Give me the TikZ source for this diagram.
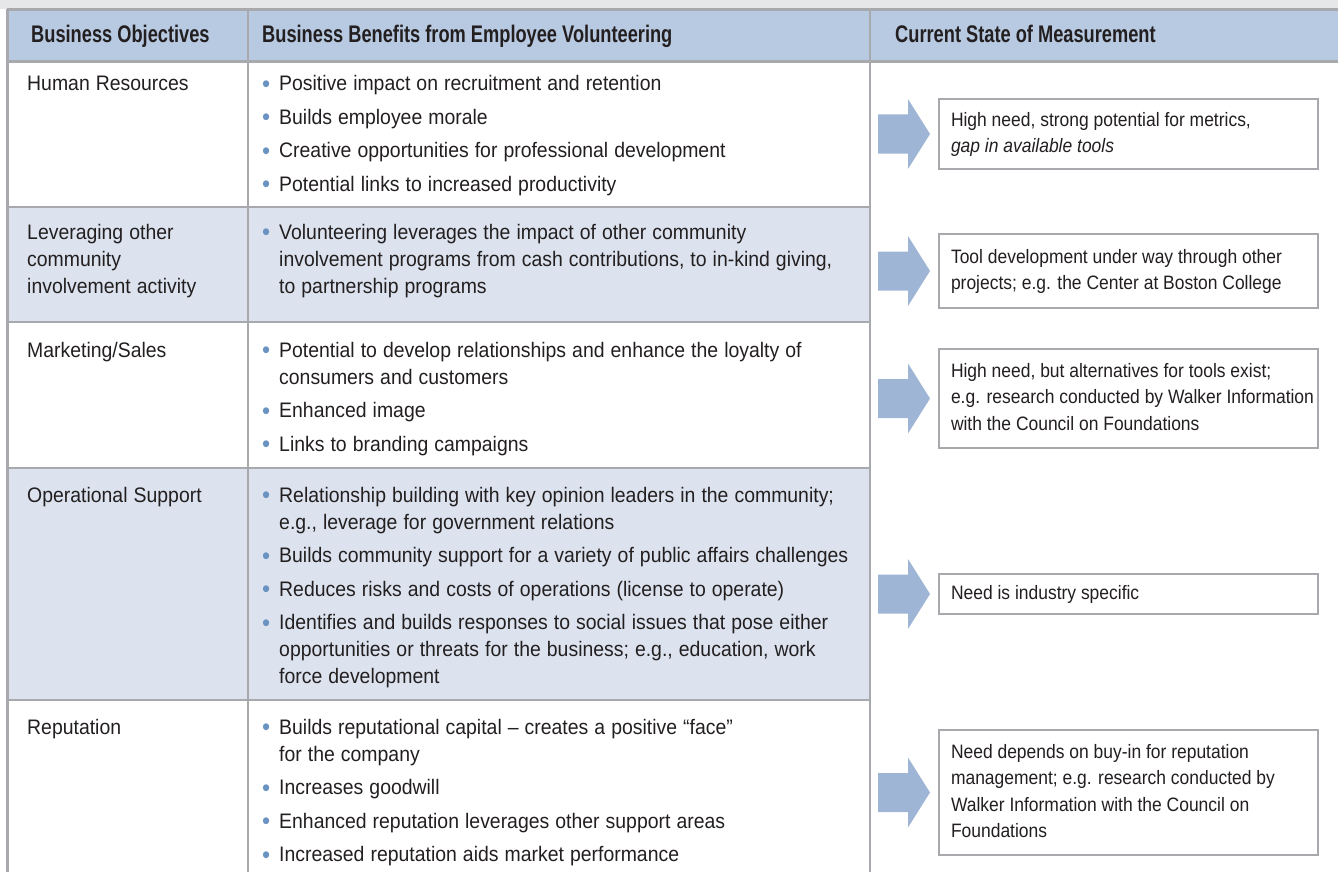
\documentclass[tikz,border=0pt]{standalone}
\usepackage{fontspec}
\setmainfont{Liberation Sans}[FakeStretch=0.925, WordSpace=1.12]
\newfontfamily\hdrfont{Liberation Sans}[FakeStretch=0.76]
\newfontfamily\boxfont{Liberation Sans}[FakeStretch=0.9]
\usetikzlibrary{calc}
\definecolor{topgray}{HTML}{E6E7E8}
\definecolor{rulegray}{HTML}{A7A9AC}
\definecolor{hdrblue}{HTML}{B8CAE1}
\definecolor{rowblue}{HTML}{DCE3EE}
\definecolor{arrowblue}{HTML}{9FB5D5}
\definecolor{bulletblue}{HTML}{6A93C2}
\definecolor{ink}{HTML}{231F20}
\newcommand{\bodyset}{\fontsize{21}{27}\selectfont\setlength{\parskip}{6.5pt}}
\newcommand{\bitem}[1]{\par\hangindent=17pt\hangafter=1\noindent\makebox[17pt][l]{\textcolor{bulletblue}{\raisebox{-1.5pt}{\fontsize{25}{27}\selectfont •}}}#1}
\newenvironment{cellbox}[1]{\begin{minipage}[t]{#1}\bodyset}{\end{minipage}}
\newcommand{\boxtext}[1]{\makebox[355pt][l]{\boxfont\fontsize{19.4}{26.5}\selectfont\begin{tabular}{@{}l@{}}#1\end{tabular}}}
\newcommand{\blockarrow}[1]{%
  \fill[arrowblue] ($(#1.west)+(-60,-19.5)$) -- ($(#1.west)+(-30,-19.5)$) -- ($(#1.west)+(-30,-35)$) -- ($(#1.west)+(-8,0)$) -- ($(#1.west)+(-30,35)$) -- ($(#1.west)+(-30,19.5)$) -- ($(#1.west)+(-60,19.5)$) -- cycle;}
\begin{document}
\begin{tikzpicture}[x=1pt,y=-1pt,
  hdr/.style={anchor=base west, inner sep=0pt, text=ink, font=\hdrfont\fontsize{24}{28}\bfseries},
  cell/.style={anchor=base west, inner sep=0pt, text=ink},
  mbox/.style={draw=rulegray, line width=2pt, fill=white, anchor=north west, inner xsep=12pt, inner ysep=0pt, text=ink},
  tline/.style={draw=rulegray, line width=2.5pt}]
\useasboundingbox (0,0) rectangle (1338,872);
% backgrounds
\fill[topgray] (0,0) rectangle (1338,9);
\fill[hdrblue] (7,9) rectangle (1338,61);
\fill[rowblue] (7,207) rectangle (870,322);
\fill[rowblue] (7,468) rectangle (870,700);
% table rules
\draw[tline] (7,9.5) -- (1338,9.5);
\draw[tline] (7,61.5) -- (1338,61.5);
\draw[tline] (7.5,9) -- (7.5,872);
\draw[tline] (248,9) -- (248,872);
\draw[tline] (870,9) -- (870,872);
\draw[tline] (7,207) -- (870,207);
\draw[tline] (7,322) -- (870,322);
\draw[tline] (7,468) -- (870,468);
\draw[tline] (7,700) -- (870,700);
% headers
\node[hdr] (h1) at (31,43) {Business Objectives};
\node[hdr] (h2) at (262,43) {Business Benefits from Employee Volunteering};
\node[hdr] (h3) at (895,43) {Current State of Measurement};
% column 1
\node[cell] (o1) at (27,91) {\begin{cellbox}{215pt}Human Resources\end{cellbox}};
\node[cell] (o2) at (27,239) {\begin{cellbox}{215pt}Leveraging other\\community\\involvement activity\end{cellbox}};
\node[cell] (o3) at (27,357) {\begin{cellbox}{215pt}Marketing/Sales\end{cellbox}};
\node[cell] (o4) at (27,502) {\begin{cellbox}{215pt}Operational Support\end{cellbox}};
\node[cell] (o5) at (27,734) {\begin{cellbox}{215pt}Reputation\end{cellbox}};
% column 2
\node[cell] (g1) at (262,91) {\begin{cellbox}{640pt}%
  \bitem{Positive impact on recruitment and retention}
  \bitem{Builds employee morale}
  \bitem{Creative opportunities for professional development}
  \bitem{Potential links to increased productivity}\end{cellbox}};
\node[cell] (g2) at (262,239) {\begin{cellbox}{640pt}%
  \bitem{Volunteering leverages the impact of other community\\involvement programs from cash contributions, to in-kind giving,\\to partnership programs}\end{cellbox}};
\node[cell] (g3) at (262,357) {\begin{cellbox}{640pt}%
  \bitem{Potential to develop relationships and enhance the loyalty of\\consumers and customers}
  \bitem{Enhanced image}
  \bitem{Links to branding campaigns}\end{cellbox}};
\node[cell] (g4) at (262,502) {\begin{cellbox}{640pt}%
  \bitem{Relationship building with key opinion leaders in the community;\\e.g., leverage for government relations}
  \bitem{Builds community support for a variety of public affairs challenges}
  \bitem{Reduces risks and costs of operations (license to operate)}
  \bitem{Identifies and builds responses to social issues that pose either\\opportunities or threats for the business; e.g., education, work\\force development}\end{cellbox}};
\node[cell] (g5) at (262,734) {\begin{cellbox}{640pt}%
  \bitem{Builds reputational capital – creates a positive “face”\\for the company}
  \bitem{Increases goodwill}
  \bitem{Enhanced reputation leverages other support areas}
  \bitem{Increased reputation aids market performance}\end{cellbox}};
% column 3 boxes
\node[mbox, minimum height=70pt] (b1) at (938,98) {\boxtext{High need, strong potential for metrics,\\\textit{gap in available tools}}};
\node[mbox, minimum height=74pt] (b2) at (938,233) {\boxtext{Tool development under way through other\\projects; e.g. the Center at Boston College}};
\node[mbox, minimum height=99pt] (b3) at (938,348) {\boxtext{High need, but alternatives for tools exist;\\e.g. research conducted by Walker Information\\with the Council on Foundations}};
\node[mbox, minimum height=40pt] (b4) at (938,573) {\boxtext{Need is industry specific}};
\node[mbox, minimum height=125pt] (b5) at (938,729) {\boxtext{Need depends on buy-in for reputation\\management; e.g. research conducted by\\Walker Information with the Council on\\Foundations}};
% arrows
\blockarrow{b1}
\blockarrow{b2}
\blockarrow{b3}
\blockarrow{b4}
\blockarrow{b5}
\end{tikzpicture}
\end{document}
